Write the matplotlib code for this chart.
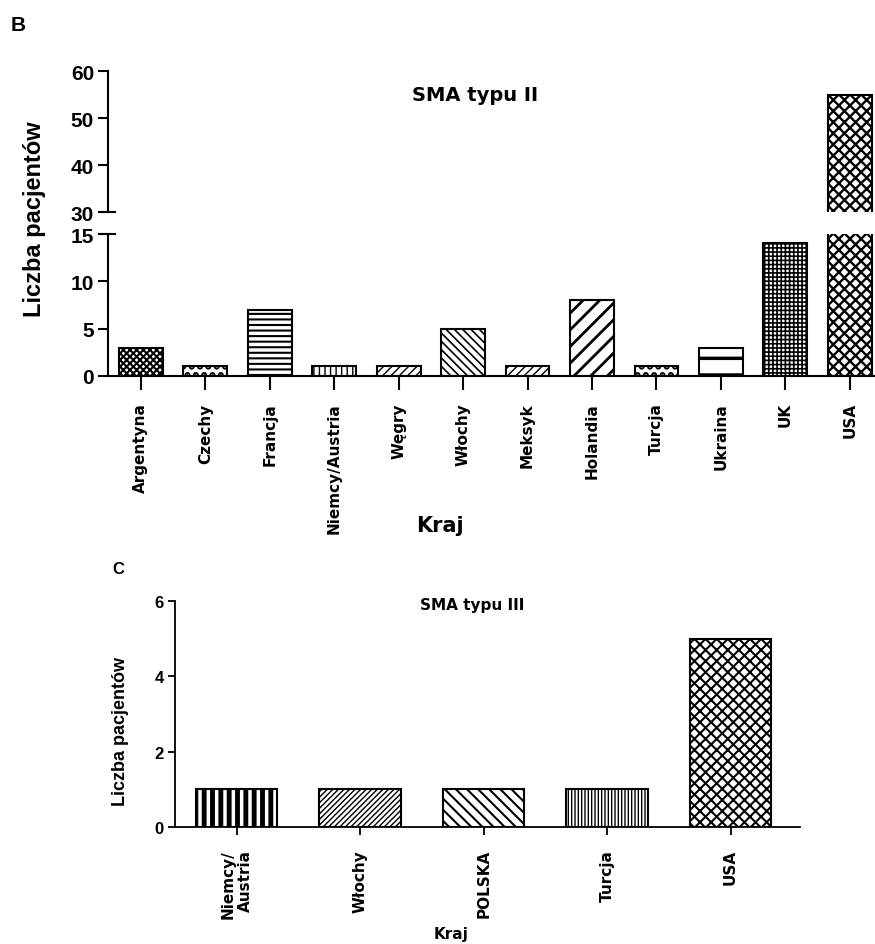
import matplotlib
matplotlib.use('Agg')
import matplotlib.pyplot as plt
import matplotlib.transforms as mtransforms

# Panel B - SMA type II
countries_b = ['Argentyna', 'Czechy', 'Francja', 'Niemcy/Austria', 'Węgry', 'Włochy',
               'Meksyk', 'Holandia', 'Turcja', 'Ukraina', 'UK', 'USA']
patients_b = [3, 1, 7, 1, 1, 5, 1, 8, 1, 3, 14, 55]
hatches_b = ['xxxxx', '..', '---', '|||', '////', '\\\\\\\\', '////', '//', '..', '-', '++++', 'xxx']
hatch_lw_b = [1.5, 3.0, 1.5, 1.0, 1.0, 1.2, 1.0, 2.0, 3.0, 2.5, 1.2, 1.7]

# Panel C - SMA type III
countries_c = ['Niemcy/\nAustria', 'Włochy', 'POLSKA', 'Turcja', 'USA']
patients_c = [1, 1, 1, 1, 5]
hatches_c = ['||', '//////', '\\\\\\', '|||||', 'xxx']
hatch_lw_c = [3.5, 1.0, 1.5, 1.0, 1.5]

YFONT = 'Liberation Sans'
XFONT = 'DejaVu Sans'


def draw_bars(ax, x, vals, hatches, lws, width):
    bars = ax.bar(x, vals, width=width, color='white', edgecolor='black', linewidth=1.5)
    for b, h, lw in zip(bars, hatches, lws):
        b.set_hatch(h)
        if hasattr(b, 'set_hatch_linewidth'):
            b.set_hatch_linewidth(lw)
    return bars


fig = plt.figure(figsize=(8.75, 9.45), dpi=100)

# ---- panel B ----
ax_lo = fig.add_axes([0.1234, 0.6011, 0.8766, 0.1502])
ax_hi = fig.add_axes([0.1234, 0.7746, 0.8766, 0.1492])
xb = list(range(len(countries_b)))
for ax in (ax_lo, ax_hi):
    draw_bars(ax, xb, patients_b, hatches_b, hatch_lw_b, 0.68)
    ax.set_xlim(-0.51, 11.39)
    ax.spines['top'].set_visible(False)
    ax.spines['right'].set_visible(False)
    ax.spines['left'].set_linewidth(1.5)
    ax.spines['bottom'].set_linewidth(1.5)
    ax.tick_params(axis='y', length=7, width=1.5, pad=3)

ax_lo.set_ylim(0, 15)
ax_lo.set_yticks([0, 5, 10, 15])
ax_hi.set_ylim(30, 60)
ax_hi.set_yticks([30, 40, 50, 60])
ax_hi.spines['bottom'].set_visible(False)
ax_hi.set_xticks([])
for ax in (ax_lo, ax_hi):
    ax.set_yticklabels([str(int(v)) for v in ax.get_yticks()], fontsize=15,
                       fontweight='bold', fontfamily=YFONT)

ax_lo.set_xticks(xb)
ax_lo.set_xticklabels(countries_b, rotation=90, fontsize=11, fontweight='bold',
                      fontfamily=XFONT, va='top')
ax_lo.tick_params(axis='x', length=10, width=1.5, pad=9)

# axis break marks
for ax, yv in ((ax_hi, 0), (ax_lo, 1)):
    tr = mtransforms.blended_transform_factory(ax.transAxes, ax.transAxes)
    ax.plot([-0.009, 0.009], [yv, yv], color='black', lw=1.5, transform=tr, clip_on=False)

ax_hi.text(0.478, 0.83, 'SMA typu II', transform=ax_hi.transAxes, ha='center', va='center',
           fontsize=14, fontweight='bold', fontfamily=XFONT)
fig.text(0.040, 0.7685, 'Liczba pacjentów', rotation=90, ha='center', va='center',
         fontsize=17, fontweight='bold', fontfamily=YFONT)
fig.text(0.503, 0.443, 'Kraj', ha='center', va='center', fontsize=15,
         fontweight='bold', fontfamily=XFONT)
fig.text(0.012, 0.973, 'B', ha='left', va='center', fontsize=15, fontweight='bold',
         fontfamily=YFONT)

# ---- panel C ----
ax_c = fig.add_axes([0.2, 0.1238, 0.714, 0.2392])
xc = list(range(len(countries_c)))
draw_bars(ax_c, xc, patients_c, hatches_c, hatch_lw_c, 0.66)
ax_c.set_xlim(-0.5, 4.56)
ax_c.set_ylim(0, 6)
ax_c.set_yticks([0, 2, 4, 6])
ax_c.set_yticklabels(['0', '2', '4', '6'], fontsize=12, fontweight='bold', fontfamily=YFONT)
ax_c.spines['top'].set_visible(False)
ax_c.spines['right'].set_visible(False)
ax_c.spines['left'].set_linewidth(1.3)
ax_c.spines['bottom'].set_linewidth(1.3)
ax_c.tick_params(axis='y', length=5, width=1.3, pad=3)
ax_c.set_xticks(xc)
ax_c.set_xticklabels(countries_c, rotation=90, fontsize=11, fontweight='bold',
                     fontfamily=XFONT, va='top', multialignment='right')
ax_c.tick_params(axis='x', length=6, width=1.3, pad=10)
ax_c.text(0.475, 0.985, 'SMA typu III', transform=ax_c.transAxes, ha='center', va='center',
          fontsize=11, fontweight='bold', fontfamily=XFONT)
fig.text(0.138, 0.2254, 'Liczba pacjentów', rotation=90, ha='center', va='center',
         fontsize=13, fontweight='bold', fontfamily=YFONT)
fig.text(0.516, 0.011, 'Kraj', ha='center', va='center', fontsize=11,
         fontweight='bold', fontfamily=XFONT)
fig.text(0.128, 0.397, 'C', ha='left', va='center', fontsize=12, fontweight='bold',
         fontfamily=YFONT)

fig.savefig('out.png', dpi=100, facecolor='white')
